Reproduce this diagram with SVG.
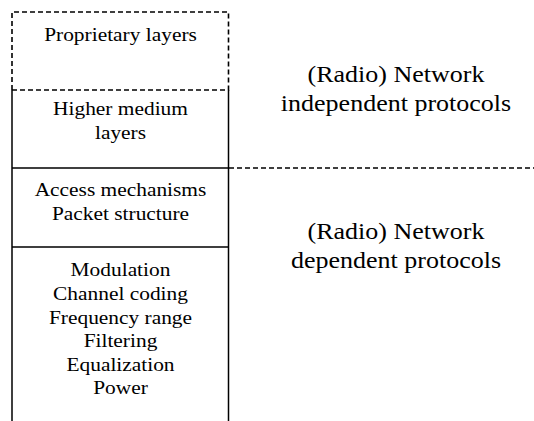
<svg xmlns="http://www.w3.org/2000/svg" width="534" height="421" viewBox="0 0 534 421">
  <rect width="534" height="421" fill="#fff"/>

  <!-- protocol stack layers; labels are widened to the stack's letter width -->
  <g id="proprietary">
    <path d="M12 90 V12 H228.5 V90 H12" fill="none" stroke="#000" stroke-width="1.6" stroke-dasharray="5 3"/>
    <text x="44.15" y="41" font-family="Liberation Serif" font-size="19" textLength="152.7" lengthAdjust="spacingAndGlyphs">Proprietary layers</text>
  </g>
  <g id="higher-medium">
    <path d="M12 90 V168 M228.5 90 V168" fill="none" stroke="#000" stroke-width="1.5"/>
    <text x="53.05" y="115" font-family="Liberation Serif" font-size="19" textLength="134.9" lengthAdjust="spacingAndGlyphs">Higher medium</text>
    <text x="94.95" y="139" font-family="Liberation Serif" font-size="19" textLength="51.1" lengthAdjust="spacingAndGlyphs">layers</text>
  </g>
  <g id="access">
    <path d="M12 168 H228.5 M12 168 V247 M228.5 168 V247" fill="none" stroke="#000" stroke-width="1.5"/>
    <text x="34.65" y="196" font-family="Liberation Serif" font-size="19" textLength="171.7" lengthAdjust="spacingAndGlyphs">Access mechanisms</text>
    <text x="51.9" y="220" font-family="Liberation Serif" font-size="19" textLength="137.2" lengthAdjust="spacingAndGlyphs">Packet structure</text>
  </g>
  <g id="physical">
    <path d="M12 247 H228.5 M12 247 V421 M228.5 247 V421" fill="none" stroke="#000" stroke-width="1.5"/>
    <text x="70.6" y="276" font-family="Liberation Serif" font-size="19" textLength="99.8" lengthAdjust="spacingAndGlyphs">Modulation</text>
    <text x="53.05" y="300" font-family="Liberation Serif" font-size="19" textLength="134.9" lengthAdjust="spacingAndGlyphs">Channel coding</text>
    <text x="48.95" y="324" font-family="Liberation Serif" font-size="19" textLength="143.1" lengthAdjust="spacingAndGlyphs">Frequency range</text>
    <text x="83.65" y="347" font-family="Liberation Serif" font-size="19" textLength="73.7" lengthAdjust="spacingAndGlyphs">Filtering</text>
    <text x="66.45" y="371" font-family="Liberation Serif" font-size="19" textLength="108.1" lengthAdjust="spacingAndGlyphs">Equalization</text>
    <text x="93.15" y="394" font-family="Liberation Serif" font-size="19" textLength="54.7" lengthAdjust="spacingAndGlyphs">Power</text>
  </g>

  <!-- divider between the two protocol groups -->
  <g id="connectors">
    <line x1="229" y1="168" x2="534" y2="168" stroke="#000" stroke-width="1.6" stroke-dasharray="5 3"/>
  </g>

  <g id="independent">
    <text x="307.6" y="82" font-family="Liberation Serif" font-size="23" textLength="176.8" lengthAdjust="spacingAndGlyphs">(Radio) Network</text>
    <text x="280.85" y="110.5" font-family="Liberation Serif" font-size="23" textLength="230.3" lengthAdjust="spacingAndGlyphs">independent protocols</text>
  </g>
  <g id="dependent">
    <text x="307.6" y="239" font-family="Liberation Serif" font-size="23" textLength="176.8" lengthAdjust="spacingAndGlyphs">(Radio) Network</text>
    <text x="290.95" y="267.5" font-family="Liberation Serif" font-size="23" textLength="210.1" lengthAdjust="spacingAndGlyphs">dependent protocols</text>
  </g>
</svg>
